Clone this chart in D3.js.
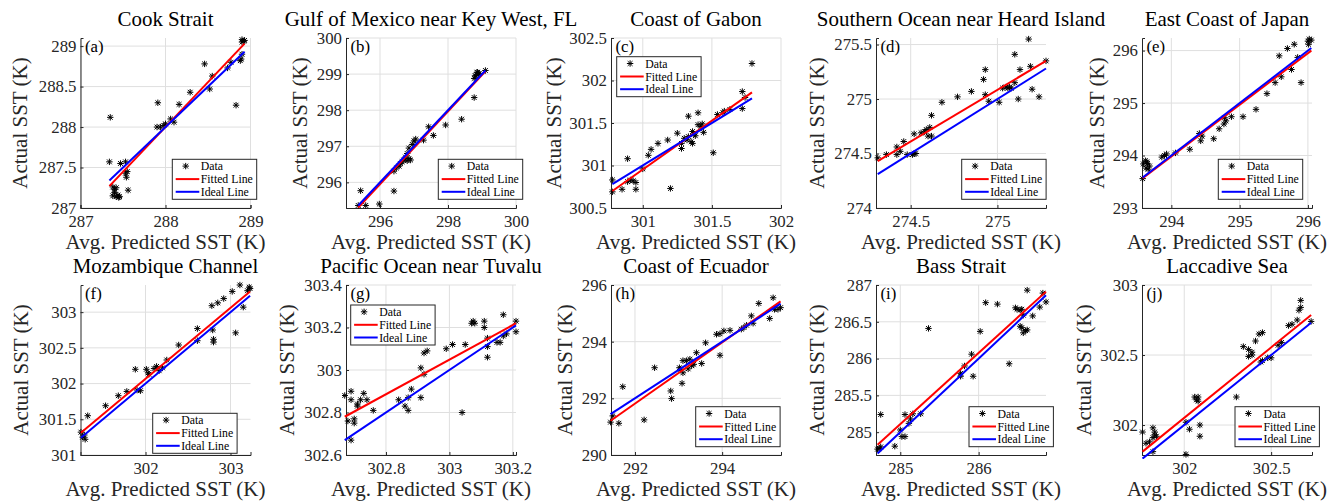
<!DOCTYPE html>
<html><head><meta charset="utf-8">
<script src="https://cdn.jsdelivr.net/npm/d3@7/dist/d3.min.js"></script>
<style>body{margin:0;background:#fff}svg{display:block}
svg text{font-family:"Liberation Serif","DejaVu Serif","Tinos","Noto Serif","Nimbus Roman","FreeSerif","Times New Roman",Times,Georgia,serif;}
</style>
</head><body>
<svg id="c" width="1328" height="504"></svg>
<script>
// ---------- DATA ----------
const titles = ["Cook Strait","Gulf of Mexico near Key West, FL","Coast of Gabon","Southern Ocean near Heard Island","East Coast of Japan",
  "Mozambique Channel","Pacific Ocean near Tuvalu","Coast of Ecuador","Bass Strait","Laccadive Sea"];
const tags = ["(a)","(b)","(c)","(d)","(e)","(f)","(g)","(h)","(i)","(j)"];
const legendLabels = ["Data","Fitted Line","Ideal Line"];
const xLabel = "Avg. Predicted SST (K)";
const yLabel = "Actual SST (K)";

const aX=[287.35,287.34,287.38,287.40,287.42,287.40,287.38,287.42,287.45,287.44,287.46,287.47,287.53,287.55,287.53,287.54,287.56,287.91,287.90,287.94,287.98,288.00,288.06,288.10,288.16,288.29,288.46,288.52,288.55,288.73,288.77,288.83,288.89,288.90,288.93,288.90,288.92,288.88,288.90];
const aY=[288.12,287.57,287.26,287.23,287.25,287.19,287.15,287.14,287.13,287.16,287.14,287.55,287.57,287.45,287.43,287.38,287.22,288.30,288.00,288.00,288.02,288.04,288.10,288.06,288.28,288.43,288.78,288.47,288.63,288.73,288.80,288.27,288.84,289.05,289.07,289.08,289.06,288.82,288.90];
const bX=[295.36,295.43,295.58,295.98,296.41,296.41,296.48,296.56,296.6,296.65,296.7,296.75,296.8,296.85,296.9,296.8,296.85,296.95,297.0,297.05,297.28,297.57,297.43,297.93,298.4,298.77,298.77,298.82,298.87,298.9,298.85,299.1,298.8,298.92];
const bY=[295.36,295.77,295.36,295.4,295.76,296.31,296.4,296.45,296.52,296.57,296.62,296.7,296.8,296.66,296.62,296.6,296.95,297.05,297.15,297.2,297.17,297.3,297.54,297.59,297.75,298.35,298.88,298.95,299.05,299.0,299.05,299.1,298.95,299.02];
const cX=[300.78,300.78,300.85,300.89,300.89,300.91,300.93,300.95,300.95,301.0,301.04,301.06,301.11,301.18,301.2,301.25,301.28,301.28,301.3,301.32,301.33,301.33,301.35,301.36,301.36,301.37,301.38,301.4,301.4,301.42,301.43,301.44,301.51,301.54,301.58,301.59,301.63,301.72,301.72,301.74,301.79];
const cY=[300.83,300.69,300.72,301.08,300.81,300.83,300.82,300.72,300.8,300.96,301.12,301.19,301.26,301.3,300.73,301.38,301.26,301.2,301.32,301.3,301.34,301.58,301.28,301.26,301.4,301.37,301.35,301.48,301.62,301.46,301.49,301.39,301.15,301.6,301.62,301.64,301.66,301.87,301.67,301.8,302.2];
const dX=[274.31,274.36,274.42,274.42,274.44,274.46,274.48,274.51,274.52,274.53,274.52,274.56,274.58,274.59,274.61,274.6,274.62,274.62,274.68,274.77,274.85,274.92,274.93,274.93,274.95,275.01,275.03,275.05,275.06,275.07,275.08,275.1,275.1,275.12,275.13,275.18,275.19,275.2,275.24,275.28];
const dY=[274.46,274.49,274.56,274.49,274.52,274.61,274.49,274.49,274.5,274.5,274.68,274.69,274.7,274.72,274.74,274.66,274.85,274.66,274.97,275.02,275.07,275.18,275.27,275.04,274.98,274.97,275.1,275.11,275.1,275.11,275.1,275.15,275.41,275.0,275.27,275.55,275.3,275.09,275.02,275.35];
const eX=[293.58,293.59,293.62,293.63,293.65,293.66,293.68,293.64,293.86,293.9,293.93,294.06,294.27,294.41,294.43,294.45,294.62,294.7,294.77,294.8,294.78,294.88,295.05,295.24,295.4,295.52,295.58,295.61,295.7,295.76,295.8,295.85,295.9,296.0,296.02,296.05,296.01];
const eY=[293.56,293.84,293.9,293.76,293.85,293.74,293.8,293.88,293.97,294.0,294.03,294.05,294.12,294.42,294.28,294.37,294.32,294.51,294.6,294.66,294.72,294.74,294.74,294.88,295.18,295.39,295.9,295.5,296.04,295.64,296.12,295.87,295.39,296.18,296.22,296.2,296.12];
const fX=[301.24,301.26,301.29,301.28,301.32,301.53,301.68,301.78,301.88,301.9,301.94,302.01,302.03,302.04,302.1,302.13,302.16,302.2,302.25,302.39,302.61,302.61,302.78,302.79,302.8,302.8,302.85,302.92,303.02,303.06,303.11,303.15,303.2,303.22,303.23];
const fY=[301.32,301.25,301.22,301.28,301.55,301.69,301.83,301.89,302.2,301.91,301.9,302.2,302.15,302.13,302.21,302.24,302.18,302.22,302.33,302.54,302.77,302.6,303.09,302.75,302.62,302.58,303.13,303.19,303.29,302.71,303.38,303.07,303.3,303.35,303.33];
const gX=[302.67,302.68,302.69,302.69,302.69,302.7,302.7,302.71,302.72,302.71,302.73,302.74,302.76,302.84,302.86,302.87,302.87,302.88,302.91,302.91,302.92,302.92,302.93,302.99,303.01,303.04,303.05,303.07,303.075,303.08,303.11,303.11,303.12,303.12,303.12,303.15,303.16,303.17,303.17,303.18,303.21,303.21];
const gY=[302.88,302.76,302.67,302.86,302.9,302.75,302.77,302.84,302.86,302.83,302.89,302.86,302.81,302.86,302.83,302.87,302.81,302.91,302.87,303.01,302.98,303.08,303.09,303.1,303.12,302.8,303.12,303.22,303.23,303.22,303.23,303.2,303.15,303.11,303.06,303.13,303.13,303.26,303.16,303.17,303.23,303.18];
const hX=[291.44,291.49,291.63,291.72,292.21,292.45,292.82,292.84,293.02,293.05,293.08,293.1,293.1,293.18,293.22,293.26,293.3,293.35,293.41,293.53,293.62,293.87,293.95,293.95,294.04,294.18,294.44,294.5,294.56,294.67,294.71,294.84,295.09,295.17,295.2,295.28,295.34];
const hY=[291.16,291.38,291.12,292.41,291.24,293.08,292.26,291.99,293.08,293.03,292.53,292.9,293.33,293.33,293.04,293.38,293.15,293.2,293.61,293.23,293.96,294.26,294.28,293.52,294.38,294.4,294.44,294.5,294.58,294.91,294.65,295.35,294.82,295.55,295.14,295.14,295.2];
const iX=[284.71,284.73,284.75,284.75,284.93,285.0,285.02,285.06,285.06,285.11,285.13,285.16,285.26,285.36,285.77,285.77,285.82,285.91,285.93,286.02,286.09,286.24,286.39,286.47,286.49,286.53,286.55,286.53,286.55,286.57,286.6,286.62,286.57,286.62,286.69,286.78,286.82,286.86];
const iY=[284.77,284.78,284.8,285.24,284.81,285.03,284.94,284.94,285.24,285.12,285.18,285.25,285.25,286.41,285.76,285.8,285.9,286.06,285.76,286.37,286.76,286.74,285.93,286.69,286.67,286.66,286.67,286.44,286.42,286.35,286.38,286.39,286.59,286.93,286.58,286.7,286.89,286.77];
const jX=[301.76,301.78,301.8,301.82,301.83,301.82,301.83,301.84,301.82,302.01,302.01,302.03,302.06,302.07,302.08,302.08,302.09,302.09,302.3,302.34,302.37,302.37,302.39,302.39,302.41,302.43,302.45,302.44,302.45,302.48,302.5,302.54,302.56,302.6,302.62,302.65,302.66,302.67,302.67,302.73];
const jY=[301.95,301.87,301.88,301.98,301.93,301.91,301.95,301.92,301.81,301.79,302.02,301.97,302.2,302.18,302.17,302.2,302.0,301.92,302.2,302.56,302.49,302.54,302.52,302.5,302.6,302.65,302.66,302.45,302.46,302.48,302.48,302.57,302.59,302.71,302.72,302.75,302.82,302.84,302.89,302.74];

// fitted line values at the left and right end of each data range
const fitStart=[287.27,295.30,300.70,274.43,293.57,301.31,302.78,291.21,284.83,301.81];
const fitEnd  =[289.03,299.08,301.86,275.35,296.00,303.29,303.22,295.42,286.91,302.786];

// axis ranges and ticks
const xDomains=[[287,289],[295,300],[300.77,302],[274.3,275.28],[293.57,296.06],[301.235,303.235],[302.674,303.21],[291.45,295.35],[284.69,286.86],[301.757,302.735]];
const yDomains=[[287,289.1],[295.29,300],[300.5,302.5],[274,275.56],[293,296.24],[301,303.38],[302.6,303.4],[290,296],[284.69,287],[301.786,303]];
const xTicks=[[287,288,289],[296,298,300],[301,301.5,302],[274.5,275],[294,295,296],[302,303],[302.8,303,303.2],[292,294],[285,286],[302,302.5]];
const yTicks=[[287,287.5,288,288.5,289],[296,297,298,299,300],[300.5,301,301.5,302,302.5],[274,274.5,275,275.5],[293,294,295,296],[301,301.5,302,302.5,303],[302.6,302.8,303,303.2,303.4],[290,292,294,296],[285,285.5,286,286.5,287],[302,302.5,303]];

const xs=[aX,bX,cX,dX,eX,fX,gX,hX,iX,jX];
const ys=[aY,bY,cY,dY,eY,fY,gY,hY,iY,jY];

// ---------- LAYOUT ----------
const colLeft=[80.5,346,611,876,1142];
const rowTop=[38,285];
const W=170,H=170;
const legendPos=[[91.8,121.3],[92.3,121.3],[5.7,18.7],[85.7,121.3],[76.3,121.3],[72.2,128.3],[4.7,20],[84.7,121.7],[93,121.7],[93,121.7]];
const yLabelOff=[-60.5,-46,-57.7,-59.3,-45.3,-59.5,-59.3,-46.7,-59.3,-58.7];
const AX="#262626";

const svg=d3.select("#c");
const fmt=v=>String(+v.toFixed(3));

function sizeFor(str,target){
  const t=svg.append("text").style("font-size","100px").text(str);
  const w=t.node().getComputedTextLength(); t.remove();
  return Math.min(40, 100*target/w);
}
const TICK=sizeFor("288",25.2);
const LAB=sizeFor("Avg. Predicted SST (K)",200);
const TITLE=sizeFor("Cook Strait",96);
const LEG=sizeFor("Fitted Line",52);

function star(g,x,y){
  const r=3.2,d=2.4;
  g.append("path").attr("d",`M${x-r},${y}L${x+r},${y}M${x},${y-r}L${x},${y+r}M${x-d},${y-d}L${x+d},${y+d}M${x-d},${y+d}L${x+d},${y-d}`)
   .attr("stroke","#000").attr("stroke-width",1).attr("fill","none");
}

for(let p=0;p<10;p++){
  const L=colLeft[p%5], T=rowTop[Math.floor(p/5)];
  const x=d3.scaleLinear().domain(xDomains[p]).range([L,L+W]);
  const y=d3.scaleLinear().domain(yDomains[p]).range([T+H,T]);
  const g=svg.append("g");
  g.selectAll(null).data(xTicks[p]).enter().append("line")
   .attr("x1",d=>x(d)).attr("x2",d=>x(d)).attr("y1",T).attr("y2",T+H)
   .attr("stroke","#dfdfdf").attr("stroke-width",1);
  g.selectAll(null).data(yTicks[p]).enter().append("line")
   .attr("x1",L).attr("x2",L+W).attr("y1",d=>y(d)).attr("y2",d=>y(d))
   .attr("stroke","#dfdfdf").attr("stroke-width",1);
  const xa=d3.axisBottom(x).tickValues(xTicks[p]).tickSize(-3).tickFormat(fmt).tickPadding(6);
  const ya=d3.axisLeft(y).tickValues(yTicks[p]).tickSize(-3).tickFormat(fmt).tickPadding(6);
  const gx=g.append("g").attr("transform",`translate(0,${T+H})`).call(xa);
  const gy=g.append("g").attr("transform",`translate(${L},0)`).call(ya);
  [gx,gy].forEach(a=>{
    a.attr("font-family",null);
    a.select(".domain").attr("stroke",AX).attr("stroke-width",1);
    a.selectAll(".tick line").attr("stroke",AX);
    a.selectAll("text").attr("fill",AX).style("font-size",TICK+"px");
  });
  gx.selectAll("text").attr("y",5).attr("dy","0.85em");
  gy.selectAll("text").attr("x",-4);

  const clip="clip"+p;
  svg.append("clipPath").attr("id",clip).append("rect").attr("x",L-4).attr("y",T-4).attr("width",W+8).attr("height",H+8);
  const pg=g.append("g").attr("clip-path",`url(#${clip})`);
  const n=Math.min(xs[p].length,ys[p].length);
  for(let k=0;k<n;k++) star(pg,x(xs[p][k]),y(ys[p][k]));
  const [x0,x1]=d3.extent(xs[p]);
  pg.append("line").attr("x1",x(x0)).attr("y1",y(fitStart[p])).attr("x2",x(x1)).attr("y2",y(fitEnd[p]))
    .attr("stroke","#ff0000").attr("stroke-width",2);
  pg.append("line").attr("x1",x(x0)).attr("y1",y(x0)).attr("x2",x(x1)).attr("y2",y(x1))
    .attr("stroke","#0000ff").attr("stroke-width",2);

  g.append("text").attr("x",L+4.5).attr("y",T+14).text(tags[p])
   .style("font-size",TICK+"px").attr("fill","#000");
  g.append("text").attr("x",L+W/2).attr("y",T-12.5).attr("text-anchor","middle").text(titles[p])
   .style("font-size",TITLE+"px").attr("fill","#000");
  g.append("text").attr("x",L+W/2).attr("y",T+H+41).attr("text-anchor","middle").text(xLabel)
   .style("font-size",LAB+"px").attr("fill",AX);
  const yl=L+yLabelOff[p], yc=T+H/2;
  g.append("text").attr("transform",`translate(${yl},${yc}) rotate(-90)`).attr("text-anchor","middle")
   .attr("dy","0.35em").text(yLabel).style("font-size",LAB+"px").attr("fill",AX);

  const lx=L+legendPos[p][0], ly=T+legendPos[p][1];
  const lg=g.append("g").attr("transform",`translate(${lx},${ly})`);
  lg.append("rect").attr("width",84.4).attr("height",40).attr("fill","#fff").attr("stroke",AX).attr("stroke-width",1);
  const rows=[6.8,19.8,32.5];
  star(lg,13.4,rows[0]);
  lg.append("line").attr("x1",3.4).attr("x2",27).attr("y1",rows[1]).attr("y2",rows[1]).attr("stroke","#ff0000").attr("stroke-width",2);
  lg.append("line").attr("x1",3.4).attr("x2",27).attr("y1",rows[2]).attr("y2",rows[2]).attr("stroke","#0000ff").attr("stroke-width",2);
  legendLabels.forEach((t,k)=>{
    lg.append("text").attr("x",28.5).attr("y",rows[k]).attr("dy","0.35em").text(t)
      .style("font-size",LEG+"px").attr("fill","#000");
  });
}
</script>
</body></html>
